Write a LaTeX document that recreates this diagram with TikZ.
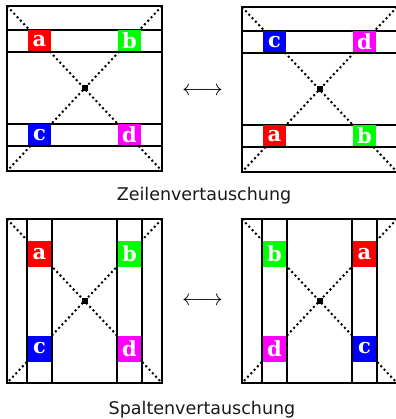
\documentclass[tikz,border=0pt]{standalone}
\usepackage{fontspec}
\usepackage{graphicx}
\setmainfont{DejaVu Sans}
\newfontfamily\lblfont{DejaVu Serif}
\definecolor{cA}{HTML}{FF0000}
\definecolor{cB}{HTML}{00FF00}
\definecolor{cC}{HTML}{0000FF}
\definecolor{cD}{HTML}{FF00FF}
\tikzset{
  frame/.style={draw=black, line width=2.4pt},
  band/.style={draw=black, fill=white, line width=2.4pt},
  diag/.style={black, line width=2pt, dash pattern=on 2pt off 2.8pt},
  centre/.style={fill=black, minimum size=6pt, inner sep=0pt},
  rowlbl/.style={minimum width=23pt, minimum height=21pt, inner sep=0pt, text=white, font=\lblfont\bfseries\fontsize{21}{21}\selectfont},
  collbl/.style={minimum width=23pt, minimum height=26pt, inner sep=0pt, text=white, font=\lblfont\bfseries\fontsize{21}{21}\selectfont},
  caption/.style={font=\fontsize{17.5}{20}\selectfont, text=black!90, anchor=base, inner sep=0pt},
  swap/.style={inner sep=0pt}
}
\begin{document}
\begin{tikzpicture}[x=1pt, y=-1pt]
\useasboundingbox (0,0) rectangle (395,419);
% ---------- row boxes ----------
\foreach \ox/\oy/\la/\lb/\lc/\ld/\ca/\cb/\cc/\cd/\nm in {7/6/a/b/c/d/cA/cB/cC/cD/L, 242/7/c/d/a/b/cC/cD/cA/cB/R}{
  \begin{scope}[shift={(\ox,\oy)}]
    \draw[diag] (0,0) -- (155,165);
    \draw[diag] (155,0) -- (0,165);
    \filldraw[band] (0,24) rectangle (155,46);
    \filldraw[band] (0,118) rectangle (155,140);
    \draw[frame] (0,0) rectangle (155,165);
    \node[rowlbl, fill=\ca] (r\nm1) at (32.5,35) {\la};
    \node[rowlbl, fill=\cb] (r\nm2) at (122.5,35) {\lb};
    \node[rowlbl, fill=\cc] (r\nm3) at (32.5,129) {\lc};
    \node[rowlbl, fill=\cd] (r\nm4) at (122.5,129) {\ld};
    \node[centre] (rc\nm) at (77.5,82.5) {};
  \end{scope}
}
% ---------- column boxes ----------
\foreach \ox/\oy/\la/\lb/\lc/\ld/\ca/\cb/\cc/\cd/\nm in {7/219/a/b/c/d/cA/cB/cC/cD/L, 242/219/b/a/d/c/cB/cA/cD/cC/R}{
  \begin{scope}[shift={(\ox,\oy)}]
    \draw[diag] (0,0) -- (155,164);
    \draw[diag] (155,0) -- (0,164);
    \filldraw[band] (20,0) rectangle (45,164);
    \filldraw[band] (110,0) rectangle (135,164);
    \draw[frame] (0,0) rectangle (155,164);
    \node[collbl, fill=\ca] (c\nm1) at (32.5,35) {\la};
    \node[collbl, fill=\cb] (c\nm2) at (122.5,35) {\lb};
    \node[collbl, fill=\cc] (c\nm3) at (32.5,129.5) {\lc};
    \node[collbl, fill=\cd] (c\nm4) at (122.5,129.5) {\ld};
    \node[centre] (cc\nm) at (77.5,82) {};
  \end{scope}
}
% ---------- swap arrows ----------
\node[swap] (arrTop) at (202.5,91) {\resizebox{41pt}{!}{$\longleftrightarrow$}};
\node[swap] (arrBot) at (202.5,301) {\resizebox{41pt}{!}{$\longleftrightarrow$}};
% ---------- captions ----------
\node[caption] (capTop) at (204,200.5) {Zeilenvertauschung};
\node[caption] (capBot) at (202,414) {Spaltenvertauschung};
\end{tikzpicture}
\end{document}
